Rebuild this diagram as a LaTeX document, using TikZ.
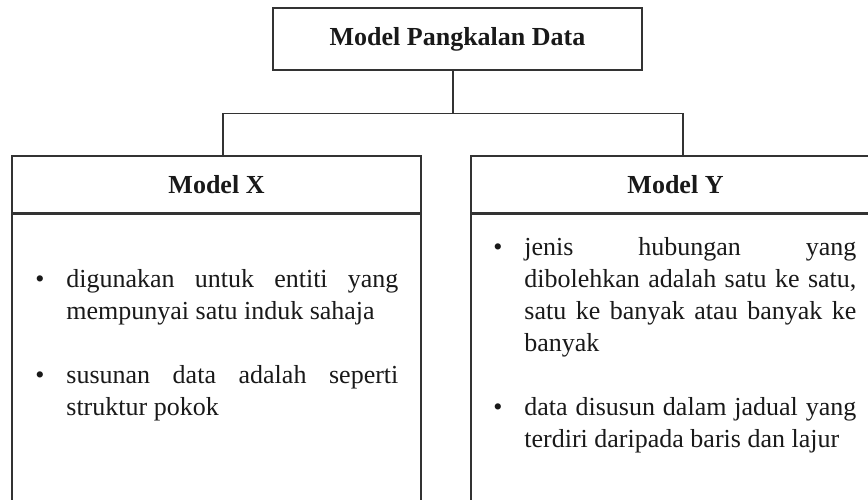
\documentclass[tikz,border=0pt]{standalone}
\usepackage{fontspec}
\setmainfont{Liberation Serif}
\usetikzlibrary{positioning}
\tikzset{
  boxline/.style={draw=black!80, line width=0.7pt},
  titlebox/.style={boxline, font=\fontsize{13}{16}\selectfont\bfseries, text=black!90, inner sep=0pt},
  bodybox/.style={boxline, minimum width=204.5pt, minimum height=170pt, inner sep=0pt},
  item/.style={anchor=base west, inner sep=0pt, text width=166pt, align=justify, font=\fontsize{13}{16}\selectfont, text=black!90},
  dot/.style={anchor=base, inner sep=0pt, font=\fontsize{13}{16}\selectfont, text=black!90},
  link/.style={draw=black!80, line width=0.7pt}
}

\begin{document}
\begin{tikzpicture}[x=0.5pt, y=-0.5pt]
\clip (0,0) rectangle (868,499);
\node[titlebox, minimum width=184.5pt, minimum height=31pt] (dbmodel) at (457.5,39) {Model Pangkalan Data};
\node[titlebox, minimum width=204.5pt, minimum height=28.5pt] (xhead) at (216.5,184.5) {Model X};
\node[titlebox, minimum width=204.5pt, minimum height=28.5pt] (yhead) at (675.5,184.5) {Model Y};
\node[bodybox, below=0pt of xhead] (xbody) {};
\node[bodybox, below=0pt of yhead] (ybody) {};

\draw[link] ([xshift=-2.25pt]dbmodel.south) -- ++(0,-21.5pt) coordinate (fork);
\draw[link] ([xshift=3.25pt]xhead.north) |- (fork) -| ([xshift=3.75pt]yhead.north);

\foreach \n/\x/\y in {xdot1/40/287, xdot2/40/383, ydot1/498/255, ydot2/498/415}{
  \node[dot] (\n) at (\x,\y) {•};
}
\node[item] (xitem1) at (66,287) {digunakan untuk entiti yang\linebreak mempunyai satu induk sahaja};
\node[item] (xitem2) at (66,383) {susunan data adalah seperti\linebreak struktur pokok};
\node[item] (yitem1) at (524,255) {jenis hubungan yang\linebreak dibolehkan adalah satu ke satu,\linebreak satu ke banyak atau banyak ke\linebreak banyak};
\node[item] (yitem2) at (524,415) {data disusun dalam jadual yang\linebreak terdiri daripada baris dan lajur};
\end{tikzpicture}
\end{document}
